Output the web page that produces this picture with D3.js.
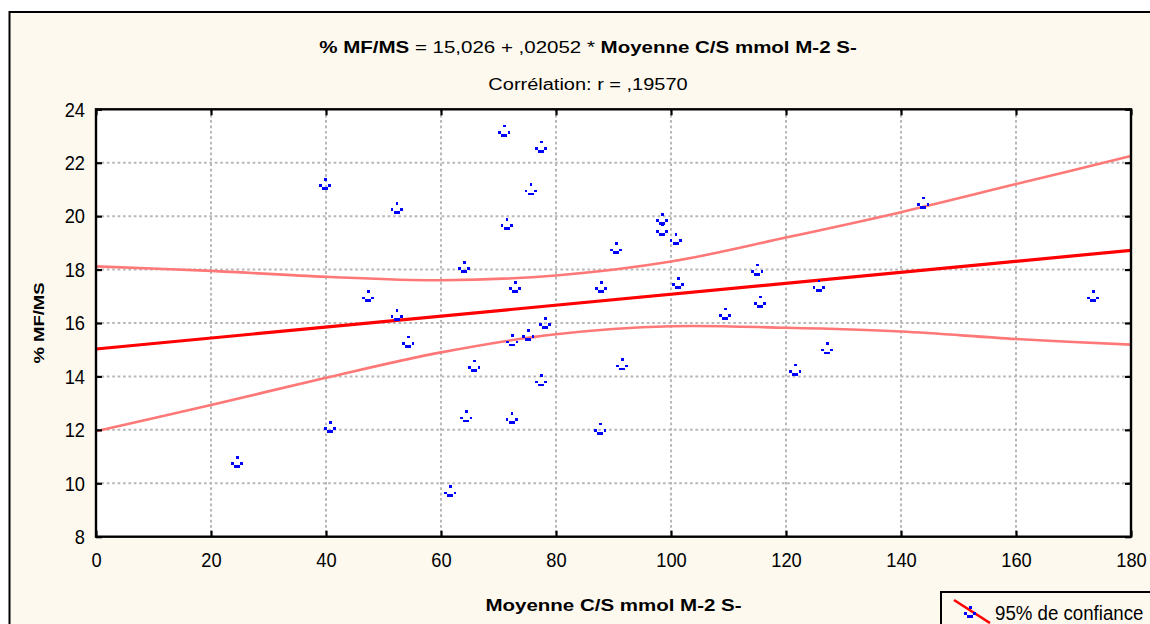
<!DOCTYPE html>
<html>
<head>
<meta charset="utf-8">
<script src="https://cdn.jsdelivr.net/npm/d3@7"></script>
<style>
  html, body { margin: 0; padding: 0; background: #ffffff; }
  svg { display: block; }
  text { font-family: "Liberation Sans", Arial, sans-serif; fill: #000; }
</style>
</head>
<body>
<svg id="chart" width="1150" height="624"></svg>
<script>
// Moyenne C/S (mmol m-2 s-1) against % MF/MS, one entry per sample
const csMean = [24.5, 39.8, 40.7, 47.3, 52.3, 52.3, 54.3, 61.6, 64.0, 64.4, 65.8,
  71.0, 71.4, 72.9, 72.4, 72.3, 75.2, 75.6, 77.4, 78.1, 77.4, 87.8, 87.7, 90.4,
  91.5, 98.4, 98.4, 100.8, 101.2, 109.4, 115.0, 115.5, 121.6, 125.7, 127.1, 143.9, 173.4];
const mfms = [10.8, 21.2, 12.1, 17.0, 20.3, 16.3, 15.3, 9.7, 18.1, 12.5, 14.4,
  23.2, 19.7, 17.35, 15.35, 12.45, 15.55, 21.0, 22.6, 16.0, 13.85, 17.35, 12.05, 18.8,
  14.45, 19.9, 19.5, 19.15, 17.5, 16.35, 18.0, 16.8, 14.25, 17.4, 15.05, 20.5, 17.0];

// fitted line: % MF/MS = 15,026 + ,02052 * Moyenne C/S
const intercept = 15.026;
const slope = 0.02052;

// 95% confidence band of the fit
const bandX = [0, 20, 40, 60, 80, 100, 120, 140, 160, 180];
const bandUpper = [18.12, 17.95, 17.73, 17.60, 17.78, 18.30, 19.20, 20.15, 21.20, 22.25];
const bandLower = [11.95, 12.93, 13.95, 14.90, 15.58, 15.88, 15.82, 15.68, 15.40, 15.19];

const xTicks = [0, 20, 40, 60, 80, 100, 120, 140, 160, 180];
const yTicks = [8, 10, 12, 14, 16, 18, 20, 22, 24];

const svg = d3.select("#chart");
const W = 1150, H = 624;
const pL = 96, pR = 1131, pT = 109.3, pB = 536.7;

const x = d3.scaleLinear().domain([0, 180]).range([pL, pR]);
const y = d3.scaleLinear().domain([8, 24]).range([pB, pT]);

// narrow, tall numerals used for ticks and legend
const numSize = 21, numSqueeze = 0.87;
// wide, low lettering used for titles
const titleSize = 20.5, titleFlatten = 0.82;

// outer panel
svg.append("rect")
  .attr("x", 9.5).attr("y", 12)
  .attr("width", W + 40).attr("height", H + 40)
  .attr("fill", "#fdf9ee").attr("stroke", "#000").attr("stroke-width", 2);

// plot area
svg.append("rect")
  .attr("x", pL).attr("y", pT)
  .attr("width", pR - pL).attr("height", pB - pT)
  .attr("fill", "#ffffff");

// dotted grid
const grid = svg.append("g")
  .attr("stroke", "#b8b8b8").attr("stroke-width", 2)
  .attr("stroke-dasharray", "2.7,2.7");
grid.selectAll("line.gx").data(xTicks.slice(1, -1)).join("line")
  .attr("class", "gx")
  .attr("x1", d => x(d)).attr("x2", d => x(d))
  .attr("y1", pT).attr("y2", pB);
grid.selectAll("line.gy").data(yTicks.slice(1, -1)).join("line")
  .attr("class", "gy")
  .attr("x1", pL).attr("x2", pR)
  .attr("y1", d => y(d)).attr("y2", d => y(d));

// confidence band and fitted line
const plot = svg.append("g");
const bandLine = d3.line()
  .x((d, i) => x(bandX[i]))
  .y(d => y(d))
  .curve(d3.curveCatmullRom);
plot.append("path").datum(bandUpper)
  .attr("d", bandLine).attr("fill", "none")
  .attr("stroke", "#ff7878").attr("stroke-width", 2.6);
plot.append("path").datum(bandLower)
  .attr("d", bandLine).attr("fill", "none")
  .attr("stroke", "#ff7878").attr("stroke-width", 2.6);

const fitLine = d3.line().x(d => x(d)).y(d => y(intercept + slope * d));
plot.append("path").datum(x.domain())
  .attr("d", fitLine).attr("fill", "none")
  .attr("stroke", "#ff0000").attr("stroke-width", 3.2);

// small pixel-style circle marker
function markerPath(cx, cy) {
  const r = (px, py, w, h) => `M${cx + px},${cy + py}h${w}v${h}h${-w}Z`;
  return r(-1, -6, 2.7, 2.7) + r(-6, 0.3, 2.7, 2.7) +
         r(3.3, 0.3, 2.7, 2.7) + r(-3, 3.2, 6, 2.8);
}
svg.append("g").selectAll("path").data(csMean).join("path")
  .attr("d", (d, i) => markerPath(x(d), y(mfms[i])))
  .attr("fill", "#0000ff")
  .attr("shape-rendering", "crispEdges");

// axes with inward ticks on all four sides
const axB = svg.append("g").attr("transform", `translate(0,${pB})`)
  .call(d3.axisBottom(x).tickValues(xTicks).tickSizeInner(-6).tickSizeOuter(0).tickPadding(15));
const axL = svg.append("g").attr("transform", `translate(${pL},0)`)
  .call(d3.axisLeft(y).tickValues(yTicks).tickSizeInner(-6).tickSizeOuter(0).tickPadding(11));
const axT = svg.append("g").attr("transform", `translate(0,${pT})`)
  .call(d3.axisTop(x).tickValues(xTicks).tickSizeInner(-6).tickSizeOuter(0).tickFormat(""));
const axR = svg.append("g").attr("transform", `translate(${pR},0)`)
  .call(d3.axisRight(y).tickValues(yTicks).tickSizeInner(-6).tickSizeOuter(0).tickFormat(""));
[axB, axL, axT, axR].forEach(a => {
  a.select(".domain").remove();
  a.selectAll(".tick line").attr("stroke", "#000").attr("stroke-width", 2.2);
  a.selectAll("text").attr("font-size", numSize)
    .attr("font-family", "Liberation Sans, Arial, sans-serif").attr("fill", "#000")
    .attr("transform", `scale(${numSqueeze},1)`);
});
axL.selectAll(".tick text").attr("x", -11 / numSqueeze);

// plot frame
svg.append("rect")
  .attr("x", pL).attr("y", pT)
  .attr("width", pR - pL).attr("height", pB - pT)
  .attr("fill", "none").attr("stroke", "#000").attr("stroke-width", 2.4);

// titles
const t1 = svg.append("text")
  .attr("transform", `translate(588,53) scale(1,${titleFlatten})`)
  .attr("text-anchor", "middle").attr("font-size", titleSize);
t1.append("tspan").attr("font-weight", "bold").text("% MF/MS");
t1.append("tspan").text(" = 15,026 + ,02052 * ");
t1.append("tspan").attr("font-weight", "bold").text("Moyenne C/S mmol M-2 S-");

svg.append("text")
  .attr("transform", `translate(588,90) scale(1,${titleFlatten})`)
  .attr("text-anchor", "middle").attr("font-size", 20)
  .text("Corrélation: r = ,19570");

// axis titles
svg.append("text")
  .attr("transform", `translate(${(pL + pR) / 2},611) scale(1,${titleFlatten})`)
  .attr("text-anchor", "middle").attr("font-size", titleSize).attr("font-weight", "bold")
  .text("Moyenne C/S mmol M-2 S-");
svg.append("text")
  .attr("transform", `translate(44,${(pT + pB) / 2}) rotate(-90) scale(1,${titleFlatten})`)
  .attr("text-anchor", "middle").attr("font-size", 18.5).attr("font-weight", "bold")
  .text("% MF/MS");

// legend
const lg = svg.append("g");
lg.append("rect").attr("x", 941).attr("y", 592).attr("width", 300).attr("height", 80)
  .attr("fill", "#fdf9ee").attr("stroke", "#000").attr("stroke-width", 2);
lg.append("line").attr("x1", 954).attr("y1", 600).attr("x2", 990).attr("y2", 623)
  .attr("stroke", "#ff0000").attr("stroke-width", 2.6);
lg.append("path").attr("d", markerPath(970, 612)).attr("fill", "#0000ff")
  .attr("shape-rendering", "crispEdges");
lg.append("text")
  .attr("transform", `translate(995,620) scale(0.89,1)`)
  .attr("font-size", numSize)
  .text("95% de confiance");
</script>
</body>
</html>
